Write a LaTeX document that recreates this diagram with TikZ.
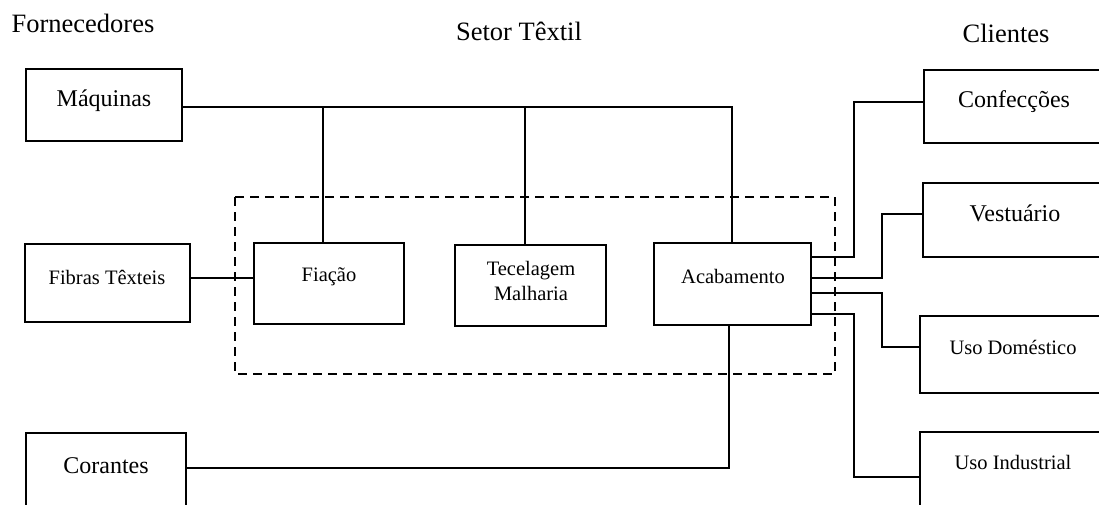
\documentclass[tikz,border=0pt]{standalone}
\usepackage{fontspec}
\setmainfont{Liberation Serif}
\begin{document}
\begin{tikzpicture}[x=1pt,y=-1pt,
  box/.style={draw, line width=2pt, inner sep=0pt, outer sep=0pt, anchor=north west},
  lbl/.style={inner sep=0pt, font=\fontsize{24}{28}\selectfont},
  slbl/.style={inner sep=0pt, font=\fontsize{20.5}{25}\selectfont, align=center},
  head/.style={inner sep=0pt, font=\fontsize{26.5}{30}\selectfont},
  wire/.style={line width=2pt},
  sector/.style={line width=2pt, dash pattern=on 9pt off 6pt}]
\useasboundingbox (0,0) rectangle (1099,504);
\clip (0,0) rectangle (1099,504);

% column headings
\node[head] (hsup) at (83,23) {Fornecedores};
\node[head] (hsec) at (519,31) {Setor Têxtil};
\node[head] (hcli) at (1006,33) {Clientes};

% textile sector outline
\draw[sector] (235,197) rectangle (835,374);

% suppliers
\node[box, minimum width=156pt, minimum height=72pt] (maq) at (26,69) {};
\node[lbl] (maqT) at (104,101) {Máquinas};
\node[box, minimum width=165pt, minimum height=78pt] (fib) at (25,244) {};
\node[slbl] (fibT) at (107,277) {Fibras Têxteis};
\node[box, minimum width=160pt, minimum height=80pt] (cor) at (26,433) {};
\node[lbl] (corT) at (106,466) {Corantes};

% production stages
\node[box, minimum width=150pt, minimum height=81pt] (fia) at (254,243) {};
\node[slbl] (fiaT) at (329,277) {Fiação};
\node[box, minimum width=151pt, minimum height=81pt] (tec) at (455,245) {};
\node[slbl] (tecT) at (531,281) {Tecelagem\\Malharia};
\node[box, minimum width=157pt, minimum height=82pt] (aca) at (654,243) {};
\node[slbl] (acaT) at (733,276) {Acabamento};

% customers
\node[box, minimum width=185pt, minimum height=73pt] (conf) at (924,70) {};
\node[lbl] (confT) at (1014,102) {Confecções};
\node[box, minimum width=185pt, minimum height=74pt] (vest) at (923,183) {};
\node[lbl] (vestT) at (1015,213) {Vestuário};
\node[box, minimum width=190pt, minimum height=77pt] (usod) at (920,316) {};
\node[slbl] (usodT) at (1013,347) {Uso Doméstico};
\node[box, minimum width=190pt, minimum height=80pt] (usoi) at (920,432) {};
\node[slbl] (usoiT) at (1013,462) {Uso Industrial};

% machinery feeds every stage
\draw[wire] (maq.east |- 0,107) -- (732,107) -- (aca.north -| 732,0);
\draw[wire] (323,107) -- (fia.north -| 323,0);
\draw[wire] (525,107) -- (tec.north -| 525,0);

% fibres into spinning
\draw[wire] (fib.east |- 0,278) -- (fia.west |- 0,278);

% dyes into finishing
\draw[wire] (cor.east |- 0,468) -- (729,468) -- (aca.south -| 729,0);

% finishing out to customers
\draw[wire] (aca.east |- 0,257) -| (854,102) -- (conf.west |- 0,102);
\draw[wire] (aca.east |- 0,278) -| (882,214) -- (vest.west |- 0,214);
\draw[wire] (aca.east |- 0,293) -| (882,347) -- (usod.west |- 0,347);
\draw[wire] (aca.east |- 0,314) -| (854,477) -- (usoi.west |- 0,477);
\end{tikzpicture}
\end{document}
